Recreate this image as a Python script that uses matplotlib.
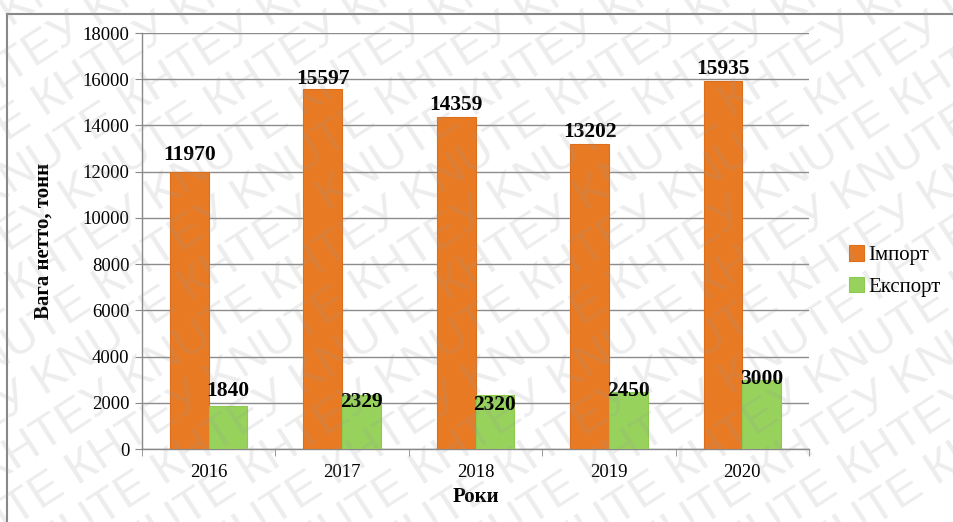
import matplotlib.pyplot as plt
from matplotlib.lines import Line2D
import numpy as np

years = ["2016", "2017", "2018", "2019", "2020"]
imports = [11970, 15597, 14359, 13202, 15935]
exports = [1840, 2329, 2320, 2450, 3000]

# label offsets (points), the source chart has hand-placed labels
imp_lbl_shift = [5, 0, 1.5, 1.5, 1]
exp_lbl_shift = [4, -12, -14, -6, -6.5]

plt.rcParams['font.family'] = ['Liberation Serif', 'DejaVu Serif']

fig = plt.figure(figsize=(9.54, 5.22), dpi=100)
ax = fig.add_axes([142/954, 1-449/522, (809-142)/954, (449-33)/522])

x = np.arange(len(years))
w = 0.29
b1 = ax.bar(x - w/2, imports, w, color='#E87A24', edgecolor='#DC6E1C', lw=0.8, label='Імпорт', zorder=3)
b2 = ax.bar(x + w/2, exports, w, color='#97D35C', edgecolor='#8CCB50', lw=0.8, label='Експорт', zorder=3)

for xi, v, s in zip(x, imports, imp_lbl_shift):
    ax.annotate(str(v), (xi - w/2, v), xytext=(0, s), textcoords='offset points',
                ha='center', va='bottom', fontsize=15.5, fontweight='bold', zorder=4)
for xi, v, s in zip(x, exports, exp_lbl_shift):
    ax.annotate(str(v), (xi + w/2, v), xytext=(0, s), textcoords='offset points',
                ha='center', va='bottom', fontsize=15.5, fontweight='bold', zorder=4)

ax.set_xlim(-0.5, 4.5)
ax.set_ylim(0, 18000)
ax.set_yticks(range(0, 18001, 2000))
ax.set_xticks(x)
ax.set_xticklabels(years)
ax.set_xticks(np.arange(-0.5, 5, 1), minor=True)
ax.tick_params(axis='x', which='major', length=0, pad=11, labelsize=13.5)
ax.tick_params(axis='x', which='minor', length=5, color='#888888', direction='out')
ax.tick_params(axis='y', length=5, color='#888888', labelsize=13.5, pad=4)
ax.grid(axis='y', color='#8c8c8c', lw=1, zorder=0)
for s in ['top', 'right']:
    ax.spines[s].set_visible(False)
for s in ['left', 'bottom']:
    ax.spines[s].set_color('#888888')
    ax.spines[s].set_linewidth(1)

ax.set_xlabel('Роки', fontsize=15, fontweight='bold', labelpad=4)
ax.set_ylabel('Вага нетто, тонн', fontsize=15, fontweight='bold', labelpad=21)

leg = fig.legend(handles=[b1, b2], loc='center left', bbox_to_anchor=(830/954, 1-271/522),
                 frameon=False, fontsize=15, handlelength=0.75, handleheight=0.75,
                 handletextpad=0.2, labelspacing=0.55)

# outer chart border
fig.add_artist(Line2D([7/954, 7/954], [0, 1-14/522], color='#888888', lw=1.5))
fig.add_artist(Line2D([7/954, 1], [1-14/522, 1-14/522], color='#888888', lw=1.5))

# watermark
for k in range(-8, 12):
    fig.text(-0.3 + k*0.09, -0.3, ('КНТЕУ KNUTE ' * 6), rotation=33, fontsize=34,
             family='Liberation Sans', color='#9a9a9a', alpha=0.18, zorder=10,
             rotation_mode='anchor', ha='left', va='bottom')

fig.savefig('out.png', dpi=100)
